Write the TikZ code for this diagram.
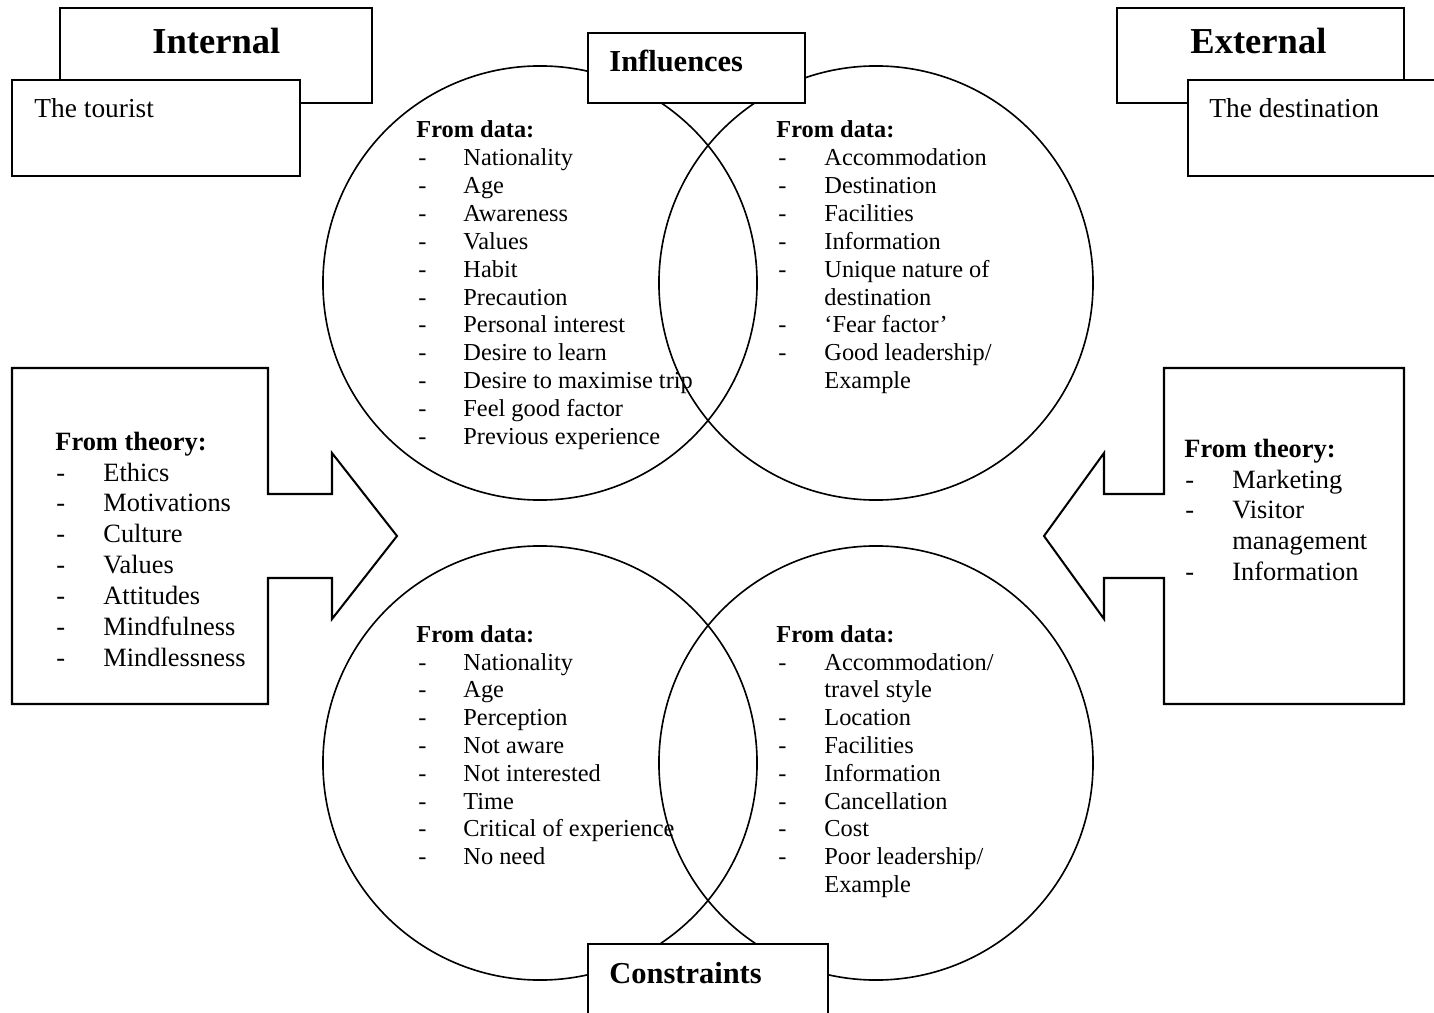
\documentclass[tikz,border=0pt]{standalone}
\usepackage{fontspec}
\setmainfont{Liberation Serif}
\usetikzlibrary{positioning,calc}

\tikzset{
  frame/.style={draw, line width=1pt, fill=white},
  ring/.style={draw, line width=0.8pt},
  item/.style={anchor=base west, inner sep=0pt, font=\fontsize{12}{14}\selectfont},
  itemhead/.style={item, font=\bfseries\fontsize{12}{14}\selectfont},
  theo/.style={anchor=base west, inner sep=0pt, font=\fontsize{13}{15}\selectfont},
  theohead/.style={theo, font=\bfseries\fontsize{13}{15}\selectfont},
  boxhead/.style={anchor=base west, inner sep=0pt, font=\bfseries\fontsize{15}{18}\selectfont},
  sidetitle/.style={anchor=base west, inner sep=0pt, font=\bfseries\fontsize{18}{22}\selectfont},
  sidename/.style={anchor=base west, inner sep=0pt, font=\fontsize{13.5}{16}\selectfont}
}
\def\rad{106.9pt}

\begin{document}
\begin{tikzpicture}[x=0.4925pt, y=-0.4925pt]
    \useasboundingbox (0,0) rectangle (1434,1013);
    \clip (0,0) rectangle (1434,1013);

    % internal / external
    \draw[frame] (60,8) rectangle (372,103);
    \node[sidetitle] (intl) at (152,54) {Internal};
    \draw[frame] (12,80) rectangle (300,176);
    \node[sidename] (tourist) at (34,118) {The tourist};

    \draw[frame] (1117,8) rectangle (1404,103);
    \node[sidetitle] (extl) at (1190,54) {External};
    \draw[frame] (1188,80) rectangle (1460,176);
    \node[sidename] (dest) at (1209,118) {The destination};

    % the four circles
    \draw[ring] (540,283) circle[radius=\rad];
    \draw[ring] (876,283) circle[radius=\rad];
    \draw[ring] (540,763) circle[radius=\rad];
    \draw[ring] (876,763) circle[radius=\rad];

    \draw[frame] (588,33) rectangle (805,103);
    \node[boxhead] (infl) at (609,72) {Influences};
    \draw[frame] (588,944) rectangle (828,1040);
    \node[boxhead] (cons) at (609,983) {Constraints};

    % theory boxes with arrows
    \draw[frame] (12,368) -- (268,368) -- (268,494) -- (332,494) -- (332,453) -- (397,536)
        -- (332,619) -- (332,578) -- (268,578) -- (268,704) -- (12,704) -- cycle;
    \draw[frame] (1404,368) -- (1164,368) -- (1164,494) -- (1104,494) -- (1104,453) -- (1044,536)
        -- (1104,619) -- (1104,578) -- (1164,578) -- (1164,704) -- (1404,704) -- cycle;

    % influences, tourist
    \node[itemhead] (tlh) at (416,138) {From data:};
    \foreach \t [count=\i] in {Nationality, Age, Awareness, Values, Habit, Precaution,
        Personal interest, Desire to learn, Desire to maximise trip, Feel good factor,
        Previous experience} {
        \node[item] (tl\i) at (463,{166+27.8*(\i-1)}) {\t};
        \node[item] (tld\i) at (418,{166+27.8*(\i-1)}) {-};
    }

    % influences, destination
    \node[itemhead] (trh) at (776,138) {From data:};
    \foreach \t [count=\i] in {Accommodation, Destination, Facilities, Information,
        Unique nature of, destination, `Fear factor', Good leadership/, Example}
        \node[item] (tr\i) at (824,{166+27.8*(\i-1)}) {\t};
    \foreach \i in {1,2,3,4,5,7,8}
        \node[item] (trd\i) at (778,{166+27.8*(\i-1)}) {-};

    % constraints, tourist
    \node[itemhead] (blh) at (416,642) {From data:};
    \foreach \t [count=\i] in {Nationality, Age, Perception, Not aware, Not interested,
        Time, Critical of experience, No need} {
        \node[item] (bl\i) at (463,{670+27.8*(\i-1)}) {\t};
        \node[item] (bld\i) at (418,{670+27.8*(\i-1)}) {-};
    }

    % constraints, destination
    \node[itemhead] (brh) at (776,642) {From data:};
    \foreach \t [count=\i] in {Accommodation/, travel style, Location, Facilities,
        Information, Cancellation, Cost, Poor leadership/, Example}
        \node[item] (br\i) at (824,{670+27.8*(\i-1)}) {\t};
    \foreach \i in {1,3,4,5,6,7,8}
        \node[item] (brd\i) at (778,{670+27.8*(\i-1)}) {-};

    % theory, left
    \node[theohead] (lth) at (55,450) {From theory:};
    \foreach \t [count=\i] in {Ethics, Motivations, Culture, Values, Attitudes,
        Mindfulness, Mindlessness} {
        \node[theo] (lt\i) at (103,{481+30.9*(\i-1)}) {\t};
        \node[theo] (ltd\i) at (56,{481+30.9*(\i-1)}) {-};
    }

    % theory, right
    \node[theohead] (rth) at (1184,457) {From theory:};
    \foreach \t [count=\i] in {Marketing, Visitor, management, Information}
        \node[theo] (rt\i) at (1232,{488+30.7*(\i-1)}) {\t};
    \foreach \i in {1,2,4}
        \node[theo] (rtd\i) at (1185,{488+30.7*(\i-1)}) {-};
\end{tikzpicture}
\end{document}
